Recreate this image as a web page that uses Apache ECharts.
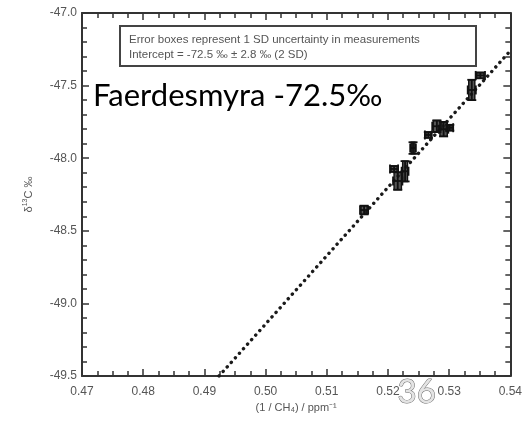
<!DOCTYPE html>
<html>
<head>
<meta charset="utf-8">
<script src="https://cdn.jsdelivr.net/npm/echarts@6/dist/echarts.min.js"></script>
<style>
  html, body { margin: 0; padding: 0; background: #fff; }
  #chart { width: 525px; height: 425px; }
</style>
</head>
<body>
<div id="chart"></div>
<script>
// measured points: 1/CH4 (ppm^-1), delta13C (permil), and 1 SD errors
const xValues = [0.5161, 0.5210, 0.5216, 0.5228, 0.5241, 0.5266, 0.5280, 0.5291, 0.5301, 0.5337, 0.5351];
const yValues = [-48.357, -48.074, -48.157, -48.09, -47.93, -47.84, -47.78, -47.80, -47.79, -47.53, -47.43];
const xErrors = [0.0005, 0.0005, 0.0006, 0.0004, 0.0003, 0.0004, 0.0006, 0.0006, 0.0004, 0.0005, 0.0006];
const yErrors = [0.03, 0.02, 0.06, 0.07, 0.04, 0.02, 0.04, 0.05, 0.02, 0.07, 0.02];

// Keeling fit line end points
const fitX = [0.4924, 0.54];
const fitY = [-49.5, -47.26];

const chart = echarts.init(document.getElementById("chart"));

const axisColor = "#333";
const labelColor = "#555";
const font = "Liberation Sans, Arial, sans-serif";

const frameAxis = {
  axisLine: { show: true, onZero: false, lineStyle: { color: axisColor, width: 2 } },
  axisTick: { show: true, inside: true, length: 7, lineStyle: { color: axisColor, width: 1.5 } },
  minorTick: { show: true, length: 5, lineStyle: { color: axisColor, width: 1.5 } },
  splitLine: { show: false }
};

const option = {
  animation: false,
  backgroundColor: "#fff",
  grid: { left: 82, right: 13, top: 13, bottom: 49 },
  xAxis: [
    {
      type: "value",
      min: 0.47,
      max: 0.54,
      interval: 0.01,
      ...frameAxis,
      minorTick: { ...frameAxis.minorTick, splitNumber: 4 },
      axisLabel: {
        color: labelColor,
        fontFamily: font,
        fontSize: 12,
        margin: 10,
        formatter: v => v.toFixed(2)
      },
      name: "(1 / CH\u2084) / ppm\u207B\u00B9",
      nameLocation: "middle",
      nameGap: 26,
      nameTextStyle: { color: labelColor, fontFamily: font, fontSize: 11 }
    },
    {
      type: "value",
      position: "top",
      min: 0.47,
      max: 0.54,
      interval: 0.01,
      ...frameAxis,
      minorTick: { ...frameAxis.minorTick, splitNumber: 4 },
      axisLabel: { show: false }
    }
  ],
  yAxis: [
    {
      type: "value",
      min: -49.5,
      max: -47,
      interval: 0.5,
      ...frameAxis,
      minorTick: { ...frameAxis.minorTick, splitNumber: 5 },
      axisLabel: {
        color: labelColor,
        fontFamily: font,
        fontSize: 12,
        margin: 5,
        formatter: v => v.toFixed(1)
      },
      name: "{d|\u03B4}{s|13}{d|C \u2030}",
      nameLocation: "middle",
      nameGap: 47,
      nameRotate: 90,
      nameTextStyle: {
        color: labelColor,
        fontFamily: font,
        rich: {
          d: { fontSize: 11, color: labelColor, fontFamily: font },
          s: { fontSize: 7, color: labelColor, fontFamily: font, verticalAlign: "top", padding: [0, 0, 6, 0] }
        }
      }
    },
    {
      type: "value",
      position: "right",
      min: -49.5,
      max: -47,
      interval: 0.5,
      ...frameAxis,
      minorTick: { ...frameAxis.minorTick, splitNumber: 5 },
      axisLabel: { show: false }
    }
  ],
  series: [
    {
      type: "line",
      data: fitX.map((x, i) => [x, fitY[i]]),
      showSymbol: false,
      lineStyle: { color: "#1a1a1a", width: 3.4, type: [0.1, 6], cap: "round" },
      z: 2
    },
    {
      type: "custom",
      data: xValues.map((x, i) => [x, yValues[i], xErrors[i], yErrors[i]]),
      renderItem: (params, api) => {
        const x = api.value(0);
        const y = api.value(1);
        const ex = api.value(2);
        const ey = api.value(3);
        const c = api.coord([x, y]);
        const top = api.coord([x, y + ey])[1];
        const bot = api.coord([x, y - ey])[1];
        const lft = api.coord([x - ex, y])[0];
        const rgt = api.coord([x + ex, y])[0];
        const cap = 4.5;
        const style = { stroke: "#111", lineWidth: 1.8, fill: null };
        return {
          type: "group",
          children: [
            {
              type: "rect",
              shape: { x: lft, y: Math.min(top, c[1] - 2), width: rgt - lft, height: Math.max(bot - top, 4) },
              style: { stroke: "#111", lineWidth: 1.4, fill: "rgba(30,30,30,0.75)" }
            },
            { type: "line", shape: { x1: c[0], y1: top, x2: c[0], y2: bot }, style },
            { type: "line", shape: { x1: c[0] - cap, y1: top, x2: c[0] + cap, y2: top }, style },
            { type: "line", shape: { x1: c[0] - cap, y1: bot, x2: c[0] + cap, y2: bot }, style },
            { type: "line", shape: { x1: lft - 1, y1: c[1], x2: rgt + 1, y2: c[1] }, style },
            { type: "line", shape: { x1: lft - 1, y1: c[1] - cap, x2: lft - 1, y2: c[1] + cap }, style },
            { type: "line", shape: { x1: rgt + 1, y1: c[1] - cap, x2: rgt + 1, y2: c[1] + cap }, style }
          ]
        };
      },
      z: 3
    }
  ],
  graphic: [
    {
      type: "group",
      left: 119,
      top: 25,
      children: [
        {
          type: "rect",
          shape: { x: 0, y: 0, width: 356, height: 40 },
          style: { fill: "#fff", stroke: "#444", lineWidth: 2 }
        },
        {
          type: "text",
          x: 9,
          y: 6,
          style: {
            text: "Error boxes represent 1 SD uncertainty in measurements\nIntercept = -72.5 \u2030 \u00B1 2.8 \u2030 (2 SD)",
            fill: "#555",
            font: "11.5px Liberation Sans, Arial, sans-serif",
            lineHeight: 15
          }
        }
      ]
    },
    {
      type: "text",
      left: 93,
      top: 80,
      style: {
        text: "Faerdesmyra -72.5\u2030",
        fill: "#000",
        font: "31px Lato, 'Open Sans', sans-serif"
      },
      z: 10
    },
    {
      type: "text",
      left: 397,
      top: 375,
      style: {
        text: "36",
        fill: "#e4e4e4",
        stroke: "#6a6a6a",
        lineWidth: 1,
        font: "33px Lato, 'Open Sans', sans-serif"
      },
      z: 10
    }
  ]
};

chart.setOption(option);
</script>
</body>
</html>
